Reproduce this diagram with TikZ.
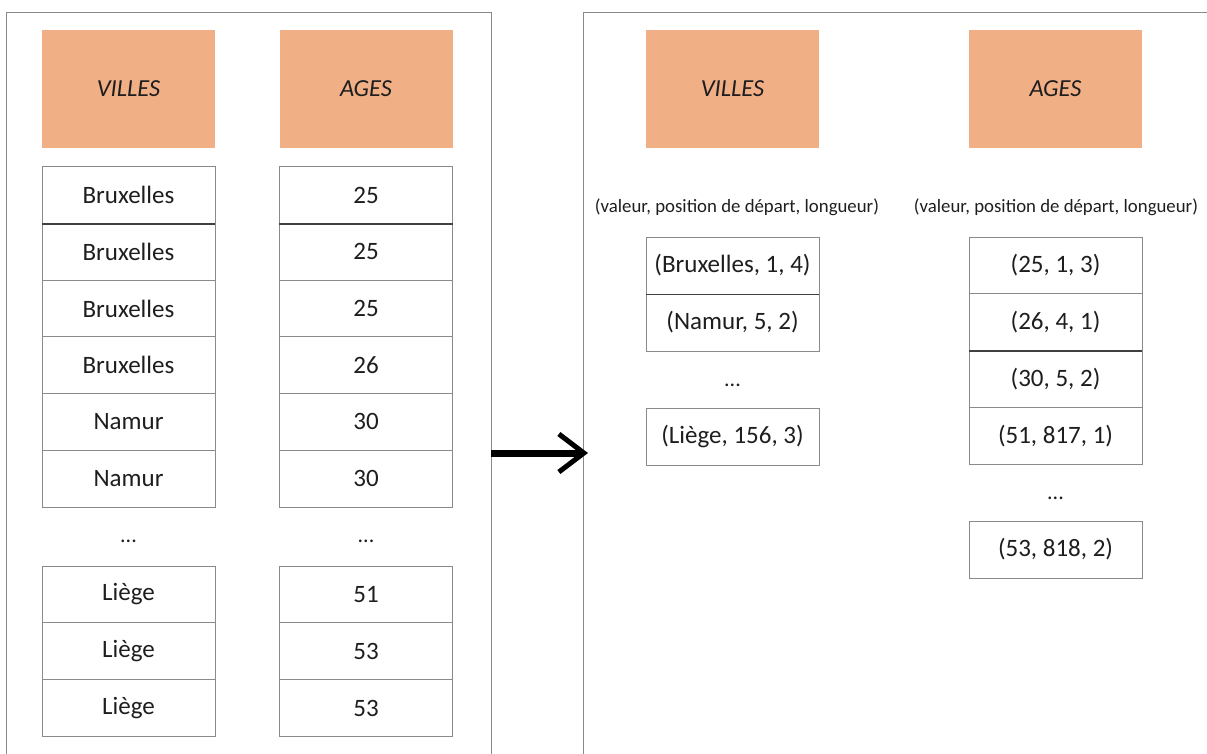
\documentclass[tikz,border=0pt]{standalone}
\usepackage{fontspec}
\setmainfont{Carlito}
\usetikzlibrary{arrows.meta}
\definecolor{hdr}{HTML}{F1AF86}
\definecolor{frame}{HTML}{8A8A8A}
\definecolor{txt}{HTML}{1E1E1E}
\tikzset{
  hdrbox/.style={fill=hdr, minimum width=173pt, minimum height=118pt, inner sep=0pt,
    text=txt, font=\fontsize{24.5}{28}\selectfont\itshape},
  cell/.style={draw=frame, line width=0.9pt, fill=white, minimum width=173pt, minimum height=57pt,
    inner sep=0pt, text=txt, font=\fontsize{25}{29}\selectfont},
  dots/.style={text=txt, font=\fontsize{22}{26}\selectfont},
  sub/.style={text=txt, font=\fontsize{18.8}{22}\selectfont},
  panel/.style={draw=frame, line width=0.9pt},
  darkline/.style={draw=black!75, line width=1.4pt}
}
\begin{document}
\begin{tikzpicture}[x=1pt,y=-1pt]
\useasboundingbox (0,0) rectangle (1207,753);
% panels
\draw[panel] (6,760) -- (6,12) -- (491,12) -- (491,760);
\draw[panel] (583,760) -- (583,12) -- (1210,12);
% left panel headers
\node[hdrbox] (lv) at (128.5,89) {VILLES};
\node[hdrbox] (la) at (366,89) {AGES};
% left panel cells
\foreach \i/\y/\v/\a in {1/195/Bruxelles/25, 2/251.7/Bruxelles/25, 3/308.5/Bruxelles/25,
  4/365.2/Bruxelles/26, 5/421.8/Namur/30, 6/478.5/Namur/30,
  7/594.5/Liège/51, 8/651.2/Liège/53, 9/708/Liège/53}{
  \node[cell] (lv\i) at (128.5,\y) {\v};
  \node[cell] (la\i) at (366,\y) {\a};
}
\draw[darkline] (lv1.south west) -- (lv1.south east);
\draw[darkline] (la1.south west) -- (la1.south east);
\node[dots] (ldv) at (128.5,541) {...};
\node[dots] (lda) at (366,541) {...};
% arrow
\coordinate (as) at (491,453);
\coordinate (ae) at (588,453);
\draw[line width=7pt, -{Straight Barb[length=25pt, width=38pt, line width=5pt]}] (as) -- (ae);
% right panel headers
\node[hdrbox] (rv) at (732.5,89) {VILLES};
\node[hdrbox] (ra) at (1055.5,89) {AGES};
\node[sub] (sv) at (737,207) {(valeur, position de départ, longueur)};
\node[sub] (sa) at (1056,207) {(valeur, position de départ, longueur)};
% right panel, villes
\node[cell] (rv1) at (732.5,265.5) {(Bruxelles, 1, 4)};
\node[cell] (rv2) at (732.5,322.5) {(Namur, 5, 2)};
\node[dots] (rdv) at (732.5,385) {...};
\node[cell] (rv3) at (732.5,436.5) {(Liège, 156, 3)};
\draw[darkline] (rv1.south west) -- (rv1.south east);
% right panel, ages
\node[cell] (ra1) at (1055.5,265.5) {(25, 1, 3)};
\node[cell] (ra2) at (1055.5,322.2) {(26, 4, 1)};
\node[cell] (ra3) at (1055.5,378.9) {(30, 5, 2)};
\node[cell] (ra4) at (1055.5,435.6) {(51, 817, 1)};
\node[dots] (rda) at (1055.5,498) {...};
\node[cell] (ra5) at (1055.5,549.5) {(53, 818, 2)};
\draw[darkline] (ra2.south west) -- (ra2.south east);
\end{tikzpicture}
\end{document}
